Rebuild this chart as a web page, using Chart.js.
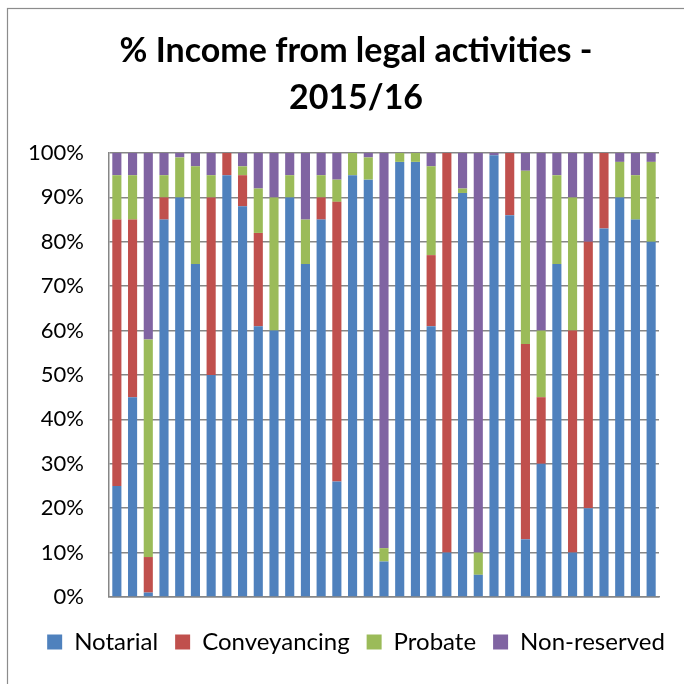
<!DOCTYPE html>
<html>
<head>
<meta charset="utf-8">
<script src="https://cdn.jsdelivr.net/npm/chart.js@4.4.0/dist/chart.umd.min.js"></script>
<style>
  html, body { margin: 0; padding: 0; background: #fff; }
</style>
</head>
<body>
<canvas id="grafico" width="684" height="684"></canvas>
<script>
// one bar per respondent, no names shown on the axis
const categorias = ['1', '2', '3', '4', '5', '6', '7', '8', '9', '10', '11', '12',
    '13', '14', '15', '16', '17', '18', '19', '20', '21', '22', '23', '24',
    '25', '26', '27', '28', '29', '30', '31', '32', '33', '34', '35'];

const notarial = [25, 45, 1, 85, 90, 75, 50, 95, 88, 61, 60, 90, 75, 85, 26, 95, 94, 8,
    98, 98, 61, 10, 91, 5, 99.5, 86, 13, 30, 75, 10, 20, 83, 90, 85, 80];
const conveyancing = [60, 40, 8, 5, 0, 0, 40, 5, 7, 21, 0, 0, 0, 5, 63, 0, 0, 0,
    0, 0, 16, 90, 0, 0, 0, 14, 44, 15, 0, 50, 60, 17, 0, 0, 0];
const probate = [10, 10, 49, 5, 9, 22, 5, 0, 2, 10, 30, 5, 10, 5, 5, 5, 5, 3,
    2, 2, 20, 0, 1, 5, 0, 0, 39, 15, 20, 30, 0, 0, 8, 10, 18];
const noReservado = [5, 5, 42, 5, 1, 3, 5, 0, 3, 8, 10, 5, 15, 5, 6, 0, 1, 89,
    0, 0, 3, 0, 8, 90, 0.5, 0, 4, 40, 5, 10, 20, 0, 2, 5, 2];

const fuente = 'Lato, "Open Sans", sans-serif';

// fondo blanco y marco gris del grafico
const marco = {
    id: 'marco',
    beforeDraw(chart) {
        const ctx = chart.ctx;
        ctx.save();
        ctx.fillStyle = '#ffffff';
        ctx.fillRect(0, 0, chart.width, chart.height);
        ctx.strokeStyle = '#8c8c8c';
        ctx.lineWidth = 1.2;
        ctx.strokeRect(7.5, 8.5, 720, 720);
        ctx.restore();
    }
};

const ctx = document.getElementById('grafico').getContext('2d');
new Chart(ctx, {
    type: 'bar',
    data: {
        labels: categorias,
        datasets: [
            { label: 'Notarial', data: notarial, backgroundColor: '#4F81BD' },
            { label: 'Conveyancing', data: conveyancing, backgroundColor: '#C0504D' },
            { label: 'Probate', data: probate, backgroundColor: '#9BBB59' },
            { label: 'Non-reserved', data: noReservado, backgroundColor: '#8064A2' }
        ]
    },
    options: {
        responsive: false,
        animation: false,
        datasets: {
            bar: { categoryPercentage: 1, barPercentage: 0.58 }
        },
        layout: {
            padding: { left: 28, right: 0, top: 0, bottom: 20 }
        },
        plugins: {
            title: {
                display: true,
                text: ['% Income from legal activities -', '2015/16'],
                color: '#000',
                font: { family: fuente, size: 34, weight: 'bold', lineHeight: '47px' },
                padding: { top: 28, bottom: 31 }
            },
            legend: {
                position: 'bottom',
                labels: {
                    color: '#000',
                    font: { family: fuente, size: 24 },
                    boxWidth: 15,
                    boxHeight: 15,
                    padding: 17
                }
            },
            tooltip: { enabled: false }
        },
        scales: {
            x: {
                stacked: true,
                grid: { display: false },
                border: { display: true, color: '#868686', width: 1.5 },
                ticks: { display: false },
                afterFit: scale => { scale.height = 16; }
            },
            y: {
                stacked: true,
                min: 0,
                max: 100,
                ticks: {
                    stepSize: 10,
                    color: '#000',
                    padding: 25,
                    font: { family: fuente, size: 22 },
                    callback: v => v + '%'
                },
                grid: { color: '#868686', lineWidth: 1.5, drawTicks: false },
                border: { display: true, color: '#868686', width: 1.5 },
                afterFit: scale => {
                    scale.width = 81;
                    // las etiquetas salen del hueco del eje: no recortarlas
                    scale._computeLabelArea = () => undefined;
                }
            },
            // eje vacio a la derecha, solo deja el margen blanco del area
            margen: {
                position: 'right',
                display: true,
                grid: { display: false },
                border: { display: false },
                ticks: { display: false },
                afterFit: scale => { scale.width = 25; }
            }
        }
    },
    plugins: [marco]
});
</script>
</body>
</html>
